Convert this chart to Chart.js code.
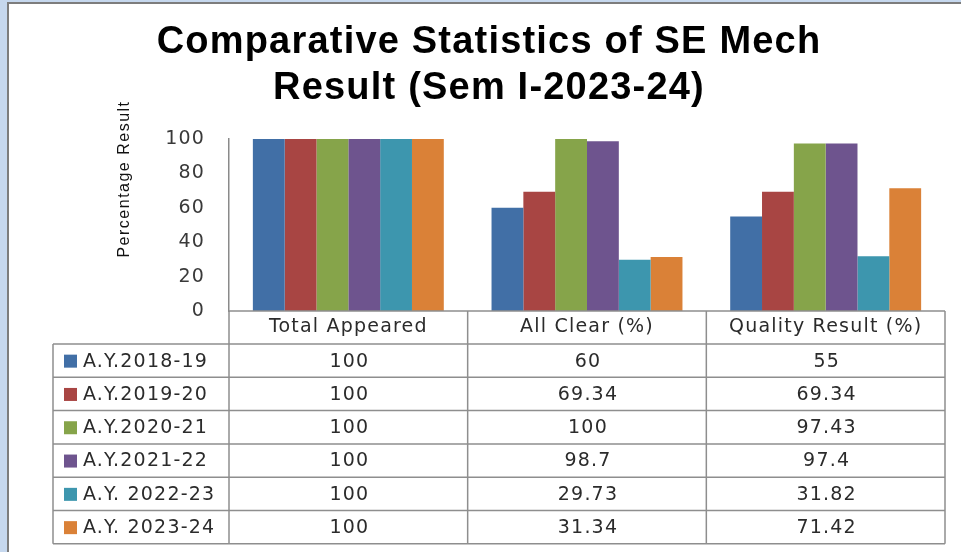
<!DOCTYPE html>
<html>
<head>
<meta charset="utf-8">
<title>Comparative Statistics of SE Mech Result</title>
<script src="https://cdn.jsdelivr.net/npm/chart.js@4.4.1/dist/chart.umd.min.js"></script>
<style>
  html, body { margin: 0; padding: 0; background: #c6d8ee; overflow: hidden; }
  #frame {
    position: absolute; left: 7px; top: 2px; width: 970px; height: 570px;
    background: #fff; border-left: 2px solid #7d7d7d; border-top: 2px solid #7d7d7d;
  }
  #chart { position: absolute; left: 0; top: 0; }
</style>
</head>
<body>
<div id="frame"></div>
<canvas id="chart" width="961" height="552"></canvas>
<script>
  // data
  var categories = ["Total Appeared", "All Clear (%)", "Quality Result (%)"];
  var seriesLabels = ["A.Y.2018-19", "A.Y.2019-20", "A.Y.2020-21", "A.Y.2021-22", "A.Y. 2022-23", "A.Y. 2023-24"];
  var ay201819 = [100, 60, 55];
  var ay201920 = [100, 69.34, 69.34];
  var ay202021 = [100, 100, 97.43];
  var ay202122 = [100, 98.7, 97.4];
  var ay202223 = [100, 29.73, 31.82];
  var ay202324 = [100, 31.34, 71.42];
  var seriesColors = ["#416fa6", "#a84543", "#86a44a", "#6e548e", "#3d96ae", "#da8137"];

  var seriesValues = [ay201819, ay201920, ay202021, ay202122, ay202223, ay202324];

  var lineColor = "#8e8e8e";
  var textColor = "#2b2b2b";
  var cellFont = "19px 'DejaVu Sans'";
  var spacing = "1.2px";
  var rowHeight = 33.3;
  var tableLeft = 53;

  // a little letter spacing, the original text is wide
  var spacingPlugin = {
    id: "spacing",
    beforeDraw: function (chart) { chart.ctx.letterSpacing = spacing; },
    afterDraw: function (chart) { chart.ctx.letterSpacing = "0px"; }
  };

  // data table under the plot, columns follow the category scale
  var tablePlugin = {
    id: "dataTable",
    afterDraw: function (chart) {
      var ctx = chart.ctx;
      var xs = chart.scales.x;
      var step = (xs.right - xs.left) / categories.length;
      var headTop = xs.top;
      var headBottom = xs.bottom;
      var bottom = headBottom + rowHeight * seriesLabels.length;

      ctx.save();
      ctx.letterSpacing = spacing;
      ctx.strokeStyle = lineColor;
      ctx.lineWidth = 1.5;
      ctx.beginPath();
      ctx.moveTo(xs.left, headTop);
      ctx.lineTo(xs.right, headTop);
      for (var r = 0; r <= seriesLabels.length; r++) {
        var yy = headBottom + r * rowHeight;
        ctx.moveTo(tableLeft, yy);
        ctx.lineTo(xs.right, yy);
      }
      for (var c = 0; c <= categories.length; c++) {
        var bx = xs.left + c * step;
        ctx.moveTo(bx, headTop);
        ctx.lineTo(bx, bottom);
      }
      ctx.moveTo(tableLeft, headBottom);
      ctx.lineTo(tableLeft, bottom);
      ctx.stroke();

      ctx.font = cellFont;
      ctx.fillStyle = textColor;
      ctx.textBaseline = "middle";
      seriesLabels.forEach(function (label, i) {
        var cy = headBottom + rowHeight * (i + 0.5);
        ctx.fillStyle = seriesColors[i];
        ctx.fillRect(tableLeft + 11, cy - 6, 13, 13);
        ctx.fillStyle = textColor;
        ctx.textAlign = "left";
        ctx.fillText(label, tableLeft + 30, cy + 1);
        ctx.textAlign = "center";
        seriesValues[i].forEach(function (v, j) {
          ctx.fillText(String(v), xs.getPixelForValue(j) + 1, cy + 1);
        });
      });

      // rotated axis title
      ctx.translate(125, 179);
      ctx.rotate(-Math.PI / 2);
      ctx.letterSpacing = "1.5px";
      ctx.font = "16px 'Liberation Sans'";
      ctx.fillStyle = "#111";
      ctx.textAlign = "center";
      ctx.fillText("Percentage Result", 0, 0);
      ctx.restore();
    }
  };

  var datasets = seriesLabels.map(function (label, i) {
    return {
      label: label,
      data: seriesValues[i],
      backgroundColor: seriesColors[i],
      borderWidth: 0,
      barPercentage: 1,
      categoryPercentage: 0.8
    };
  });

  new Chart(document.getElementById("chart"), {
    type: "bar",
    data: { labels: categories, datasets: datasets },
    plugins: [tablePlugin, spacingPlugin],
    options: {
      responsive: false,
      animation: false,
      layout: { padding: { left: 33, right: 16, top: 2, bottom: 208 } },
      plugins: {
        legend: { display: false },
        tooltip: { enabled: false },
        title: {
          display: true,
          text: ["Comparative Statistics of SE Mech", "Result (Sem I-2023-24)"],
          color: "#000",
          font: { family: "'Liberation Sans'", size: 38, weight: "bold", lineHeight: 46 / 38 },
          padding: { top: 18, bottom: 27 }
        }
      },
      scales: {
        x: {
          grid: { display: false, drawTicks: false },
          border: { display: false },
          ticks: { color: textColor, font: { family: "'DejaVu Sans'", size: 19 }, padding: 5, maxRotation: 0 },
          afterFit: function (scale) { scale.height = 33; }
        },
        y: {
          min: 0,
          max: 100,
          grid: { display: false, drawTicks: false },
          border: { display: true, color: "#8a8a8a", width: 1.5 },
          ticks: { stepSize: 20, color: "#3a3a3a", font: { family: "'DejaVu Sans'", size: 19 }, padding: 24 },
          afterFit: function (scale) { scale.width = 196; }
        }
      }
    }
  });
</script>
</body>
</html>
